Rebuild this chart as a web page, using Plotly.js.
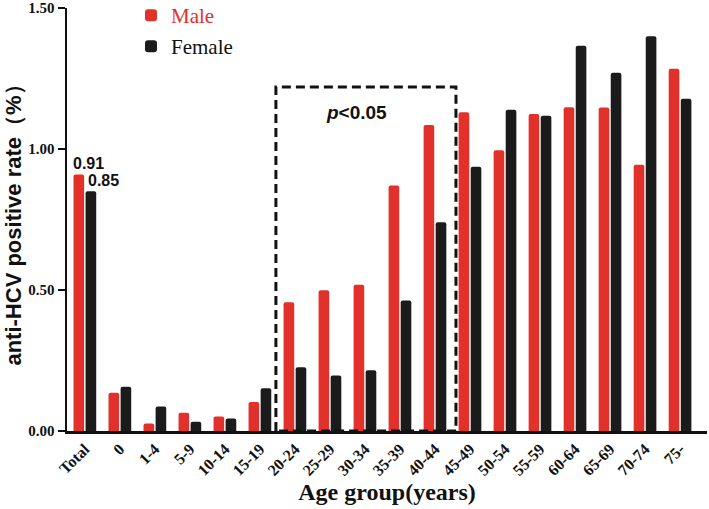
<!DOCTYPE html>
<html>
<head>
<meta charset="utf-8">
<script src="https://cdn.plot.ly/plotly-3.0.1.min.js"></script>
<style>html,body{margin:0;padding:0;background:#fff;}#chart{width:709px;height:509px;}</style>
</head>
<body>
<div id="chart"></div>
<script>
var categories = ["Total","0","1-4","5-9","10-14","15-19","20-24","25-29","30-34","35-39","40-44","45-49","50-54","55-59","60-64","65-69","70-74","75-"];
var male   = [0.91,0.136,0.027,0.065,0.051,0.103,0.457,0.499,0.519,0.871,1.085,1.130,0.996,1.124,1.148,1.147,0.944,1.285];
var female = [0.85,0.157,0.087,0.033,0.044,0.152,0.226,0.197,0.215,0.463,0.740,0.937,1.139,1.118,1.366,1.270,1.400,1.178];
var yTicks = [0, 0.5, 1.0, 1.5];
var yTickLabels = ["0.00","0.50","1.00","1.50"];
var sigGroups = ["20-24","40-44"];
var sigText = "<i>p</i><0.05";
var sigTop = 1.22;

var RED = "#e2312b", BLACK = "#1b1b1b";
var serifB = {family:"Liberation Serif, Times New Roman, serif", weight:"bold", color:"#111"};
var sansB = {family:"Liberation Sans, Arial, sans-serif", weight:"bold", color:"#111"};

var traces = [
  {type:"bar", name:"Male", x:categories, y:male, marker:{color:RED, cornerradius:2}, legend:"legend"},
  {type:"bar", name:"Female", x:categories, y:female, marker:{color:BLACK, cornerradius:2}, legend:"legend2"}
];

var i0 = categories.indexOf(sigGroups[0]), i1 = categories.indexOf(sigGroups[1]);

var layout = {
  width:709, height:509,
  margin:{l:67, r:2, t:8, b:78, autoexpand:false},
  paper_bgcolor:"#fff", plot_bgcolor:"#fff",
  barmode:"group", bargap:0.31, bargroupgap:0.12,
  showlegend:true,
  legend:{x:0.10, y:0.982, xanchor:"left", yanchor:"middle", bgcolor:"rgba(0,0,0,0)",
          font:{family:"Liberation Serif, Times New Roman, serif", size:21, color:RED}},
  legend2:{x:0.10, y:0.909, xanchor:"left", yanchor:"middle", bgcolor:"rgba(0,0,0,0)",
          font:{family:"Liberation Serif, Times New Roman, serif", size:21, color:"#111"}},
  xaxis:{
    type:"category", range:[-0.51, 17.77], fixedrange:true,
    showline:true, linecolor:"#111", linewidth:2.5, ticks:"", showgrid:false, zeroline:false,
    tickangle:-45, tickfont:Object.assign({size:16}, serifB),
    title:{text:"Age group(years)", font:Object.assign({size:24}, serifB), standoff:2}
  },
  yaxis:{
    range:[0, 1.5], tickvals:yTicks, ticktext:yTickLabels,
    showline:true, linecolor:"#111", linewidth:2.5, ticks:"outside", ticklen:7, tickwidth:2.5, tickcolor:"#111",
    showgrid:false, zeroline:false,
    tickfont:Object.assign({size:15}, serifB),
    title:{text:"anti-HCV positive rate（%）", font:Object.assign({size:22}, sansB), standoff:1}
  },
  shapes:[
    {type:"path", xref:"x", yref:"y",
     path:"M "+(i0-0.543)+",0 L "+(i0-0.543)+","+sigTop+" L "+(i1+0.6)+","+sigTop+" L "+(i1+0.6)+",0 Z",
     line:{color:"#111", width:3, dash:"9px,5px"}}
  ],
  annotations:[
    {xref:"x", yref:"y", x:0, y:male[0], xshift:-14, xanchor:"left", yanchor:"bottom",
     text:male[0].toFixed(2), showarrow:false, font:Object.assign({size:16}, sansB)},
    {xref:"x", yref:"y", x:0, y:female[0], xshift:1, xanchor:"left", yanchor:"bottom",
     text:female[0].toFixed(2), showarrow:false, font:Object.assign({size:16}, sansB)},
    {xref:"paper", yref:"paper", x:0.453, y:0.754, xanchor:"center", yanchor:"middle",
     text:sigText, showarrow:false, font:Object.assign({size:19}, sansB)}
  ]
};

Plotly.newPlot("chart", traces, layout, {displayModeBar:false, staticPlot:true});
</script>
</body>
</html>
